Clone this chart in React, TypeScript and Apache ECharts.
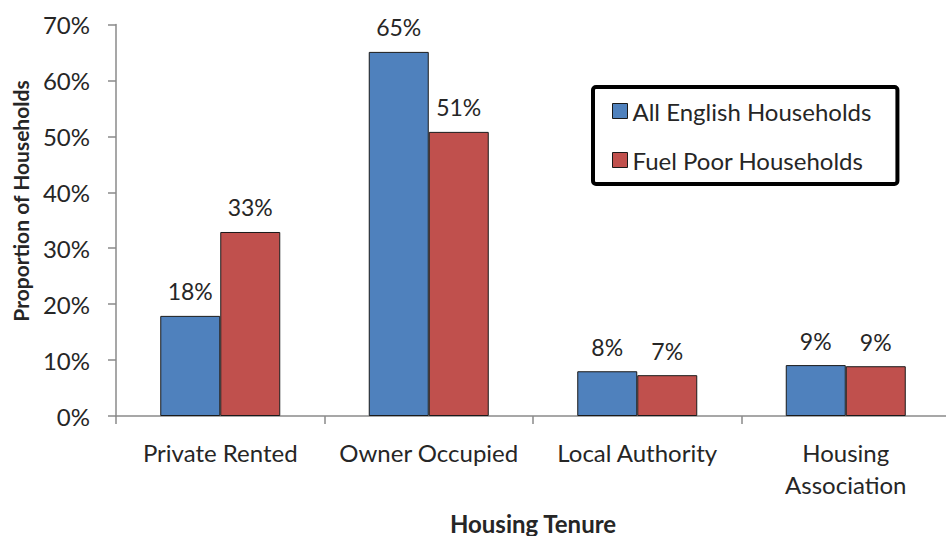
import React, { useEffect, useRef } from "react";
import * as echarts from "echarts";

const categories = ["Private Rented", "Owner Occupied", "Local Authority", "Housing\nAssociation"];
const allEnglish = [17.9, 65.1, 8.0, 9.1];
const fuelPoor = [32.9, 50.8, 7.3, 8.9];
const seriesNames = ["All English Households", "Fuel Poor Households"];
const yTicks = [0, 10, 20, 30, 40, 50, 60, 70];
const xTitle = "Housing Tenure";
const yTitle = "Proportion of Households";

const FONT = "Lato, 'Open Sans', sans-serif";
const TXT = "#262626";

export default function App() {
  const ref = useRef<HTMLDivElement>(null);
  useEffect(() => {
    if (!ref.current) return;
    const chart = echarts.init(ref.current, undefined, { renderer: "svg" });
    const label = {
      show: true,
      position: "top" as const,
      distance: 13,
      fontFamily: FONT,
      fontSize: 23,
      color: TXT,
      formatter: (p: any) => Math.round(p.value) + "%",
    };
    chart.setOption({
      animation: false,
      backgroundColor: "#ffffff",
      textStyle: { fontFamily: FONT },
      grid: {
        left: 116,
        right: -4,
        top: 24.5,
        bottom: 120,
        containLabel: false,
        outerBoundsMode: "none",
      },
      legend: {
        orient: "vertical",
        left: 593,
        top: 87,
        padding: [12, 26, 12, 19],
        itemGap: 25,
        itemWidth: 15,
        itemHeight: 15,
        icon: "rect",
        borderColor: "#000",
        borderWidth: 4,
        borderRadius: 3,
        textStyle: { fontFamily: FONT, fontSize: 24, color: TXT },
        itemStyle: { borderColor: "#1a1a1a", borderWidth: 1 },
        data: seriesNames,
      },
      graphic: [
        {
          type: "text",
          x: 20,
          y: 201,
          rotation: Math.PI / 2,
          style: {
            text: yTitle,
            fontFamily: FONT,
            fontSize: 21,
            fontWeight: "bold",
            fill: TXT,
            align: "center",
            verticalAlign: "middle",
          },
        },
      ],
      xAxis: {
        type: "category",
        data: categories,
        name: xTitle,
        nameLocation: "middle",
        nameGap: 95,
        nameTextStyle: { fontFamily: FONT, fontSize: 24, fontWeight: "bold", color: TXT },
        axisLine: { lineStyle: { color: "#8a8a8a", width: 1.5 } },
        axisTick: { show: true, length: 8, lineStyle: { color: "#8a8a8a", width: 1.5 } },
        axisLabel: { fontFamily: FONT, fontSize: 24, color: TXT, margin: 20, lineHeight: 32, interval: 0 },
      },
      yAxis: {
        type: "value",
        min: 0,
        max: 70,
        interval: 10,
        axisLine: { show: true, lineStyle: { color: "#8a8a8a", width: 1.5 } },
        axisTick: { show: true, length: 8, lineStyle: { color: "#8a8a8a", width: 1.5 } },
        splitLine: { show: false },
        axisLabel: {
          fontFamily: FONT,
          fontSize: 24,
          color: TXT,
          margin: 26,
          formatter: (v: number) => (yTicks.includes(v) ? v + "%" : ""),
        },
      },
      series: [
        {
          name: seriesNames[0],
          type: "bar",
          data: allEnglish,
          barWidth: 60,
          barGap: "0%",
          itemStyle: { color: "#4F81BD", borderColor: "#1a1a1a", borderWidth: 1 },
          label,
        },
        {
          name: seriesNames[1],
          type: "bar",
          data: fuelPoor,
          barWidth: 60,
          barGap: "0%",
          itemStyle: { color: "#C0504D", borderColor: "#1a1a1a", borderWidth: 1 },
          label,
        },
      ],
    });
    return () => chart.dispose();
  }, []);
  return (
    <div
      ref={ref}
      style={{ position: "absolute", left: 0, top: 0, width: 946, height: 536 }}
    />
  );
}
